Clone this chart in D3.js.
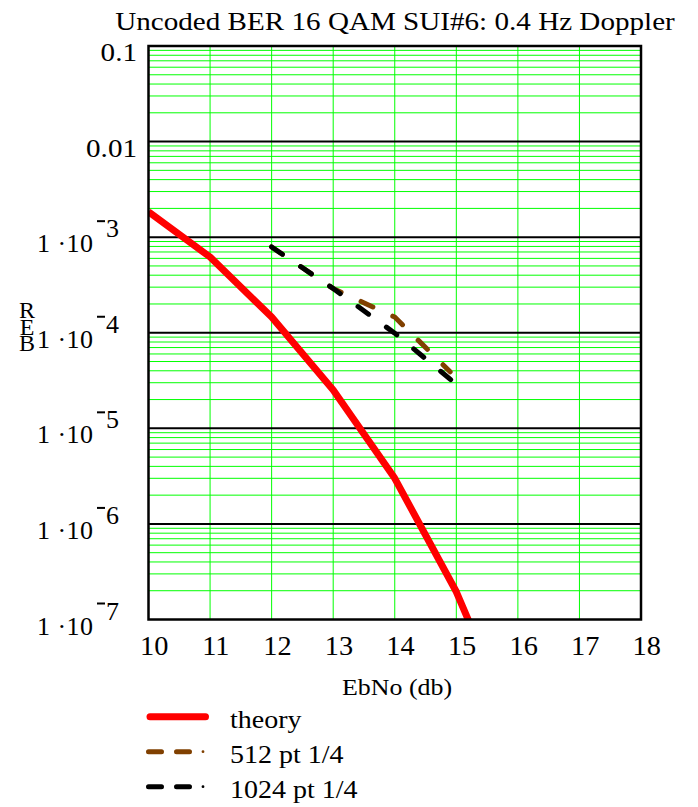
<!DOCTYPE html>
<html><head><meta charset="utf-8">
<script src="https://cdn.jsdelivr.net/npm/d3@7"></script>
<style>
html,body{margin:0;padding:0;background:#fff;}
svg text{font-family:"Liberation Serif","Times New Roman",serif;fill:#000;}
</style></head>
<body><svg id="c" width="698" height="807"></svg>
<script>
// ---- data ----
const titleText = "Uncoded BER 16 QAM SUI#6: 0.4 Hz Doppler";
const xLabel = "EbNo (db)";
const yLabelText = "REB";
const xTicks = [10,11,12,13,14,15,16,17,18];
const yDecades = [1e-7,1e-6,1e-5,1e-4,1e-3,1e-2,1e-1];
const yPlainLabels = {"0.1":0.1,"0.01":0.01};
const yExpLabels = [[1e-3,"3"],[1e-4,"4"],[1e-5,"5"],[1e-6,"6"],[1e-7,"7"]];
const theoryX = [10,11,12,13,14,15,16];
const theoryY = [1.84e-3,6.2e-4,1.46e-4,2.52e-5,3.0e-6,1.95e-7,6e-9];
const pt512X = [12,13,14,14.9];
const pt512Y = [7.9e-4,2.9e-4,1.46e-4,3.9e-5];
const pt1024X = [12,13,14,14.93];
const pt1024Y = [7.9e-4,2.9e-4,9.9e-5,3.15e-5];
const legendNames = ["theory","512 pt 1/4","1024 pt 1/4"];

// ---- layout ----
const L=148.5,R=641,T=46,B=619.5;
const svg=d3.select("#c");
const x=d3.scaleLinear().domain([10,18]).range([L,R]);
const y=d3.scaleLog().domain([1e-7,0.1]).range([B,T]);

svg.append("defs").append("clipPath").attr("id","clip")
  .append("rect").attr("x",L).attr("y",T).attr("width",R-L).attr("height",B-T);

// minor horizontal grid
const minor=[];
yDecades.slice(0,-1).forEach(d=>{for(let k=2;k<=9;k++)minor.push(d*k);});
svg.append("g").selectAll("line").data(minor).join("line")
  .attr("x1",L).attr("x2",R).attr("y1",d=>y(d)).attr("y2",d=>y(d))
  .attr("stroke","#00ff00").attr("stroke-width",1);
// vertical grid
svg.append("g").selectAll("line").data(xTicks.slice(1,-1)).join("line")
  .attr("x1",d=>x(d)).attr("x2",d=>x(d)).attr("y1",T).attr("y2",B)
  .attr("stroke","#00ff00").attr("stroke-width",1);
// decade lines
svg.append("g").selectAll("line").data(yDecades.slice(1,-1)).join("line")
  .attr("x1",L).attr("x2",R).attr("y1",d=>y(d)).attr("y2",d=>y(d))
  .attr("stroke","#000").attr("stroke-width",2);

// series
const line=d3.line().x(d=>x(d[0])).y(d=>y(d[1]));
const plot=svg.append("g").attr("clip-path","url(#clip)");
plot.append("path").datum(theoryX.map((v,i)=>[v,theoryY[i]]))
  .attr("d",line).attr("fill","none").attr("stroke","#ff0000").attr("stroke-width",7).attr("stroke-linejoin","round");
plot.append("path").datum(pt512X.map((v,i)=>[v,pt512Y[i]]))
  .attr("d",line).attr("fill","none").attr("stroke","#804000").attr("stroke-width",5)
  .attr("stroke-linecap","round").attr("stroke-dasharray","13,22");
plot.append("path").datum(pt1024X.map((v,i)=>[v,pt1024Y[i]]))
  .attr("d",line).attr("fill","none").attr("stroke","#000").attr("stroke-width",5)
  .attr("stroke-linecap","round").attr("stroke-dasharray","13,22");

// frame
svg.append("rect").attr("x",L).attr("y",T).attr("width",R-L).attr("height",B-T)
  .attr("fill","none").attr("stroke","#000").attr("stroke-width",2.5);

// x axis ticks
const xa=svg.append("g").attr("transform",`translate(0,${B})`)
  .call(d3.axisBottom(x).tickValues(xTicks).tickSize(0).tickPadding(0).tickFormat(d3.format("d")));
xa.select(".domain").remove();
xa.selectAll("text").attr("x",5).attr("y",36).attr("dy",null).attr("font-size",27)
  .attr("transform","scale(1.05,1)").attr("fill","#000");

// y axis labels
const ya=svg.append("g");
Object.entries(yPlainLabels).forEach(([t,v])=>{
  ya.append("text").attr("transform",`translate(137,${y(v)+15}) scale(1.12,1)`).attr("text-anchor","end")
    .attr("font-size",26).text(t);
});
yExpLabels.forEach(([v,e])=>{
  const g=ya.append("g").attr("transform",`translate(0,${y(v)})`);
  g.append("text").attr("x",37).attr("y",15).attr("font-size",26)
    .attr("textLength",56).attr("lengthAdjust","spacing").text("1 \u00b710");
  g.append("rect").attr("x",97).attr("y",-17).attr("width",8).attr("height",2).attr("fill","#000");
  g.append("text").attr("x",106).attr("y",0).attr("font-size",26).text(e);
});

// title
svg.append("text").attr("transform",`translate(395,30) scale(1.12,1)`)
  .attr("text-anchor","middle").attr("font-size",26).text(titleText);
// x label
svg.append("text").attr("transform",`translate(397,695) scale(1.08,1)`)
  .attr("text-anchor","middle").attr("font-size",24).text(xLabel);
// y label letters (stacked upright, one text)
svg.append("text").attr("x",27).attr("y",297).attr("font-size",24)
  .style("writing-mode","vertical-rl").style("text-orientation","upright")
  .style("letter-spacing","-9.5px").text(yLabelText);

// legend
const lg=svg.append("g");
const legY=[716.7,751.7,786.7];
const legCol=["#ff0000","#804000","#000"];
lg.append("line").attr("x1",150).attr("x2",205.5).attr("y1",legY[0]).attr("y2",legY[0])
  .attr("stroke",legCol[0]).attr("stroke-width",7).attr("stroke-linecap","round");
[1,2].forEach(i=>{
  lg.append("line").attr("x1",148.5).attr("x2",195).attr("y1",legY[i]).attr("y2",legY[i])
    .attr("stroke",legCol[i]).attr("stroke-width",5).attr("stroke-linecap","round").attr("stroke-dasharray","13,15");
  lg.append("circle").attr("cx",203).attr("cy",legY[i]).attr("r",1.4).attr("fill",legCol[i]);
});
legendNames.forEach((n,i)=>{
  lg.append("text").attr("transform",`translate(230,${legY[i]+11}) scale(1.12,1)`)
    .attr("font-size",25).text(n);
});
</script></body></html>
